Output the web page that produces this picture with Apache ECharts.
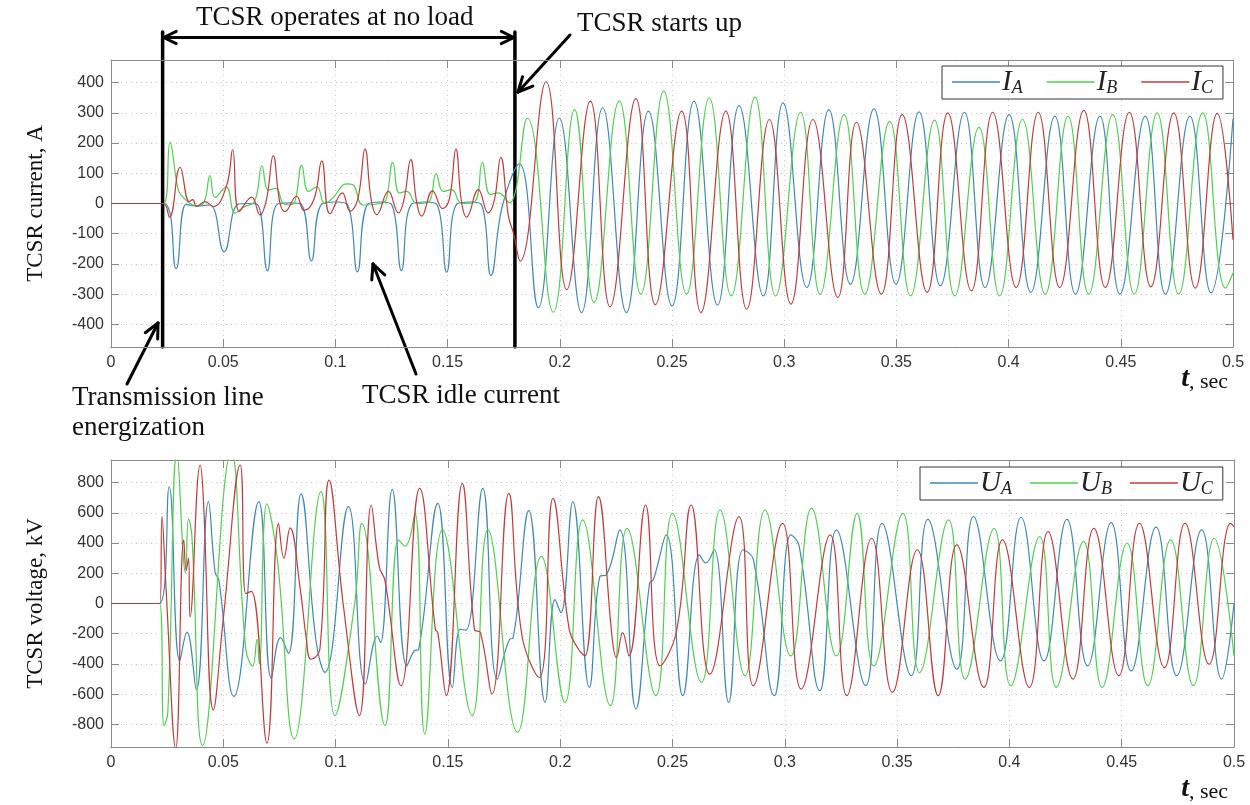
<!DOCTYPE html>
<html><head><meta charset="utf-8">
<script src="https://cdn.jsdelivr.net/npm/echarts@6/dist/echarts.min.js"></script>
<style>html,body{margin:0;padding:0;background:#fff}#c{width:1250px;height:805px}</style>
</head><body><div id="c"></div>
<script>
// ---------- data (time in s, current in A, voltage in kV) ----------
const currentTicks = [-400,-300,-200,-100,0,100,200,300,400];
const voltageTicks = [-800,-600,-400,-200,0,200,400,600,800];
const eventTimes = [0.023, 0.18]; // energization, TCSR start-up

const IA = [[0,0],[0.0235,0],[0.0290,-216],[0.0335,-3],[0.0380,-8],[0.0440,-5],[0.0504,-160],[0.0565,-3],[0.0610,0],[0.0652,-3],[0.0697,-223],[0.0740,-3],[0.0800,2],[0.0848,-3],[0.0893,-190],[0.0938,-3],[0.1000,5],[0.1053,-3],[0.1098,-226],[0.1143,-3],[0.1200,5],[0.1250,-3],[0.1294,-222],[0.1338,-3],[0.1400,5],[0.1452,-3],[0.1496,-227],[0.1540,-3],[0.1600,5],[0.1650,-3],[0.1693,-238],[0.1745,-5],[0.1820,131],[0.1904,-345],[0.1998,283],[0.2097,-361],[0.2191,317],[0.2297,-361],[0.2395,306],[0.2500,-339],[0.2598,339],[0.2703,-336],[0.2799,324],[0.2907,-306],[0.2995,333],[0.3101,-278],[0.3199,311],[0.3295,-267],[0.3400,313],[0.3498,-267],[0.3601,303],[0.3696,-272],[0.3803,302],[0.3895,-278],[0.4002,294],[0.4099,-294],[0.4206,289],[0.4298,-300],[0.4407,289],[0.4496,-300],[0.4609,289],[0.4699,-300],[0.4808,289],[0.4902,-296],[0.5,280]];
const IB = [[0,0],[0.0235,0],[0.0263,202],[0.0300,44],[0.0322,20],[0.0352,0],[0.0382,-8],[0.0415,5],[0.0441,92],[0.0464,20],[0.0513,55],[0.0553,-32],[0.0590,-12],[0.0640,8],[0.0673,125],[0.0701,44],[0.0735,50],[0.0768,0],[0.0795,-5],[0.0820,8],[0.0850,127],[0.0880,40],[0.0917,55],[0.0953,0],[0.0990,20],[0.1050,65],[0.1078,62],[0.1124,-5],[0.1200,0],[0.1225,10],[0.1256,136],[0.1285,35],[0.1318,40],[0.1362,0],[0.1415,5],[0.1449,98],[0.1480,40],[0.1518,46],[0.1563,0],[0.1620,5],[0.1655,136],[0.1690,30],[0.1726,35],[0.1775,2],[0.1855,283],[0.1971,-360],[0.2066,311],[0.2153,-328],[0.2265,340],[0.2361,-300],[0.2463,372],[0.2565,-300],[0.2666,350],[0.2764,-306],[0.2870,352],[0.2962,-306],[0.3073,302],[0.3160,-300],[0.3267,294],[0.3359,-300],[0.3470,272],[0.3563,-306],[0.3670,276],[0.3760,-306],[0.3868,252],[0.3960,-306],[0.4062,278],[0.4163,-300],[0.4265,289],[0.4357,-300],[0.4464,294],[0.4560,-300],[0.4662,300],[0.4758,-300],[0.4865,300],[0.4967,-280],[0.5,-230]];
const IC = [[0,0],[0.0230,0],[0.0260,-45],[0.0308,120],[0.0349,6],[0.0364,13],[0.0382,-10],[0.0419,6],[0.0456,-10],[0.0515,59],[0.0542,178],[0.0572,-26],[0.0627,21],[0.0664,-38],[0.0692,10],[0.0723,158],[0.0752,5],[0.0775,-27],[0.0827,24],[0.0860,-23],[0.0905,15],[0.0939,141],[0.0976,-34],[0.1031,35],[0.1065,-26],[0.1100,15],[0.1132,180],[0.1160,10],[0.1184,-37],[0.1236,40],[0.1281,-31],[0.1305,10],[0.1336,145],[0.1362,5],[0.1384,-42],[0.1433,42],[0.1478,-17],[0.1508,15],[0.1537,180],[0.1562,5],[0.1585,-45],[0.1637,46],[0.1681,-31],[0.1708,10],[0.1737,153],[0.1771,-42],[0.1793,-97],[0.1823,-191],[0.1939,403],[0.2031,-285],[0.2136,339],[0.2224,-342],[0.2339,347],[0.2426,-335],[0.2543,306],[0.2629,-361],[0.2740,306],[0.2833,-350],[0.2934,278],[0.3030,-333],[0.3128,278],[0.3239,-311],[0.3322,269],[0.3433,-300],[0.3526,294],[0.3637,-294],[0.3729,300],[0.3834,-289],[0.3929,302],[0.4034,-278],[0.4132,302],[0.4228,-278],[0.4335,308],[0.4431,-278],[0.4538,302],[0.4634,-276],[0.4736,300],[0.4832,-280],[0.4930,298],[0.5,-120]];

const UA = [[0,0],[0.0216,0],[0.0259,773],[0.0306,-380],[0.0338,-189],[0.0380,-571],[0.0434,674],[0.0464,202],[0.0480,158],[0.0547,-615],[0.0658,674],[0.0714,-496],[0.0755,-226],[0.0790,-330],[0.0846,724],[0.0913,-250],[0.0952,-456],[0.1057,641],[0.1133,-533],[0.1186,-215],[0.1200,-259],[0.1252,755],[0.1317,-413],[0.1350,-314],[0.1370,-303],[0.1455,663],[0.1520,-555],[0.1555,-171],[0.1580,-176],[0.1655,762],[0.1720,-500],[0.1775,-237],[0.1790,-230],[0.1860,615],[0.1933,-654],[0.1977,26],[0.2003,-61],[0.2056,674],[0.2130,-555],[0.2177,180],[0.2205,190],[0.2265,487],[0.2337,-698],[0.2398,136],[0.2415,158],[0.2472,454],[0.2546,-610],[0.2620,322],[0.2648,268],[0.2685,356],[0.2750,-654],[0.2814,356],[0.2860,290],[0.2953,-610],[0.3027,454],[0.3064,380],[0.3156,-577],[0.3230,487],[0.3360,-544],[0.3433,531],[0.3563,-478],[0.3637,557],[0.3766,-435],[0.3840,575],[0.3960,-380],[0.4052,571],[0.4154,-380],[0.4256,557],[0.4348,-413],[0.4453,536],[0.4542,-446],[0.4653,505],[0.4745,-478],[0.4856,487],[0.4945,-500],[0.5,0]];
const UB = [[0,0],[0.0216,0],[0.0236,-808],[0.0253,-720],[0.0294,1000],[0.0332,202],[0.0345,560],[0.0360,450],[0.0408,-940],[0.0535,1000],[0.0600,-300],[0.0631,-413],[0.0650,-237],[0.0660,-400],[0.0694,660],[0.0740,300],[0.0816,-896],[0.0935,740],[0.0997,-742],[0.1085,0],[0.1117,530],[0.1220,-808],[0.1280,421],[0.1310,380],[0.1353,597],[0.1397,-863],[0.1476,487],[0.1608,-742],[0.1678,487],[0.1810,-852],[0.1916,312],[0.2021,-654],[0.2100,553],[0.2223,-676],[0.2298,498],[0.2426,-610],[0.2500,597],[0.2629,-522],[0.2712,619],[0.2823,-478],[0.2912,619],[0.3027,-347],[0.3119,630],[0.3230,-347],[0.3322,597],[0.3396,-413],[0.3526,597],[0.3600,-457],[0.3729,553],[0.3803,-500],[0.3932,498],[0.4006,-544],[0.4135,443],[0.4209,-555],[0.4330,410],[0.4413,-555],[0.4524,399],[0.4616,-544],[0.4718,421],[0.4819,-544],[0.4912,432],[0.5,-347]];
const UC = [[0,0],[0.0218,0],[0.0227,575],[0.0245,100],[0.0288,-960],[0.0324,421],[0.0335,220],[0.0345,300],[0.0352,-88],[0.0397,917],[0.0410,730],[0.0456,-705],[0.0500,-100],[0.0575,917],[0.0600,66],[0.0625,80],[0.0694,-925],[0.0746,531],[0.0770,300],[0.0797,500],[0.0843,92],[0.0870,-237],[0.0890,-369],[0.0930,-303],[0.0971,817],[0.1035,-18],[0.1106,-742],[0.1159,652],[0.1194,246],[0.1220,150],[0.1291,-544],[0.1374,762],[0.1444,-171],[0.1455,-193],[0.1493,-610],[0.1564,795],[0.1618,-171],[0.1645,-193],[0.1696,-599],[0.1771,729],[0.1830,-215],[0.1907,-490],[0.1968,696],[0.2040,-171],[0.2080,-300],[0.2110,-347],[0.2170,707],[0.2232,-237],[0.2250,-358],[0.2278,-193],[0.2306,-347],[0.2380,652],[0.2445,-413],[0.2518,-182],[0.2583,652],[0.2666,-468],[0.2796,575],[0.2860,-544],[0.2990,531],[0.3073,-566],[0.3202,454],[0.3276,-610],[0.3387,432],[0.3479,-588],[0.3590,356],[0.3683,-610],[0.3766,388],[0.3886,-555],[0.3969,421],[0.4089,-555],[0.4172,476],[0.4283,-500],[0.4376,498],[0.4487,-478],[0.4579,531],[0.4690,-424],[0.4782,531],[0.4889,-402],[0.4985,531],[0.5,509]];

// ---------- styling ----------
const COL = {A:'#3f88b5', B:'#4fd04f', C:'#c23b3b'};
const SANS = 'Liberation Sans, Arial, sans-serif';
const SERIF = 'Liberation Serif, Times New Roman, serif';
const AX = '#8a8a8a';

function xAxisDef(grid, pos, labels){
  return {type:'value', gridIndex:grid, position:pos, min:0, max:0.5, interval:0.05,
    axisLine:{show:true, onZero:false, lineStyle:{color:AX,width:1}},
    axisTick:{show:true, inside:true, length:8, lineStyle:{color:AX}},
    axisLabel:{show:labels, color:'#333', fontFamily:SANS, fontSize:16, margin:8},
    splitLine:{show:labels, lineStyle:{color:'#c8c8c8', type:[1,4], width:1}}};
}
function yAxisDef(grid, pos, labels, ticks, lim, name){
  const d = {type:'value', gridIndex:grid, position:pos, min:-lim, max:lim,
    axisLine:{show:true, onZero:false, lineStyle:{color:AX,width:1}},
    axisTick:{show:true, inside:true, length:8, customValues:ticks, lineStyle:{color:AX}},
    axisLabel:{show:labels, customValues:ticks, color:'#333', fontFamily:SANS, fontSize:16, margin:7},
    splitLine:{show:labels, customValues:ticks, lineStyle:{color:'#c8c8c8', type:[1,4], width:1}}};
  if (name){ Object.assign(d,{name:name, nameLocation:'middle', nameGap:64, nameRotate:90,
    nameTextStyle:{fontFamily:SERIF, fontSize:23, color:'#111'}}); }
  return d;
}
function legendDef(left, top, names, gap){
  return {data:names, left:left, top:top, orient:'horizontal', icon:'rect', itemWidth:48, itemHeight:1.5,
    itemGap:gap, padding:[2,10,2,10], borderColor:'#333', borderWidth:1, backgroundColor:'#fff',
    formatter: n => '{m|' + n[0] + '}{s|' + n[1] + '}',
    textStyle:{padding:[0,0,0,-3], rich:{
      m:{fontFamily:SERIF, fontStyle:'italic', fontSize:29, color:'#222', verticalAlign:'bottom', lineHeight:30},
      s:{fontFamily:SERIF, fontStyle:'italic', fontSize:18, color:'#222', verticalAlign:'bottom', lineHeight:24}
    }}};
}
function lineSeries(name, data, xi, yi, color){
  return {name:name, type:'line', data:data, xAxisIndex:xi, yAxisIndex:yi, showSymbol:false, symbol:'none',
    smooth:0.45, clip:true, lineStyle:{color:color, width:1.2}, itemStyle:{color:color}, animation:false};
}

const chart = echarts.init(document.getElementById('c'));
chart.setOption({
  animation:false,
  backgroundColor:'#fff',
  grid:[{left:111, top:60, width:1122, height:287},{left:111, top:460, width:1123, height:287}],
  xAxis:[xAxisDef(0,'bottom',true), xAxisDef(1,'bottom',true), xAxisDef(0,'top',false), xAxisDef(1,'top',false)],
  yAxis:[yAxisDef(0,'left',true,currentTicks,475,'TCSR current, A'), yAxisDef(1,'left',true,voltageTicks,950,'TCSR voltage, kV'),
         yAxisDef(0,'right',false,currentTicks,475), yAxisDef(1,'right',false,voltageTicks,950)],
  legend:[legendDef(942,66,['IA','IB','IC'],24), legendDef(920,467,['UA','UB','UC'],18)],
  series:[
    lineSeries('IA', IA, 0, 0, COL.A), lineSeries('IB', IB, 0, 0, COL.B), lineSeries('IC', IC, 0, 0, COL.C),
    lineSeries('UA', UA, 1, 1, COL.A), lineSeries('UB', UB, 1, 1, COL.B), lineSeries('UC', UC, 1, 1, COL.C)
  ]
});

// ---------- annotations ----------
const pE = chart.convertToPixel({gridIndex:0}, [eventTimes[0], -475]);
const pS = chart.convertToPixel({gridIndex:0}, [eventTimes[1], -475]);
const x0 = pE[0], x1 = pS[0], yb = pE[1];
const yArrow = 37.5;
const LW = 3;
function seg(a,b,c,d,w){ return {type:'line', shape:{x1:a,y1:b,x2:c,y2:d}, style:{stroke:'#000', lineWidth:w||LW, lineCap:'round'}, silent:true}; }
function arrow(xs,ys,xt,yt,len){
  len = len||15; const ang = Math.atan2(yt-ys, xt-xs), s = 0.45;
  return [seg(xs,ys,xt,yt),
    seg(xt,yt, xt - len*Math.cos(ang - s), yt - len*Math.sin(ang - s)),
    seg(xt,yt, xt - len*Math.cos(ang + s), yt - len*Math.sin(ang + s))];
}
const AF = 27;
const txt = (x,y,t,align) => ({type:'text', x:x, y:y, silent:true,
  style:{text:t, fontFamily:SERIF, fontSize:AF, fill:'#111', textAlign:align||'left', textVerticalAlign:'middle'}});
const g = [];
g.push(seg(x0, 32, x0, yb, 3.5), seg(x1, 32, x1, yb, 3.5));
g.push(...arrow(x1-20, yArrow, x0+1, yArrow, 14).slice(1), ...arrow(x0+20, yArrow, x1-1, yArrow, 14).slice(1));
g.push(seg(x0+1, yArrow, x1-1, yArrow));
g.push(...arrow(570, 35, 518, 92, 16));
g.push(...arrow(127, 384, 158, 323, 16));
g.push(...arrow(416, 374, 373, 264, 16));
g.push(txt((x0+x1)/2 - 4, 18, 'TCSR operates at no load', 'center'));
g.push(txt(577, 24, 'TCSR starts up'));
g.push(txt(72, 398, 'Transmission line'));
g.push(txt(72, 428, 'energization'));
g.push(txt(362, 396, 'TCSR idle current'));
const tsec = y => ({type:'text', x:1228, y:y, silent:true, style:{text:'{t|t}{c|, sec}', textAlign:'right', textVerticalAlign:'middle',
  rich:{t:{fontFamily:SERIF, fontStyle:'italic', fontWeight:'bold', fontSize:28, fill:'#111', verticalAlign:'bottom'}, c:{fontFamily:SERIF, fontSize:22, fill:'#111', verticalAlign:'bottom'}}}});
g.push(tsec(379), tsec(789));
chart.setOption({graphic:g});
</script></body></html>
